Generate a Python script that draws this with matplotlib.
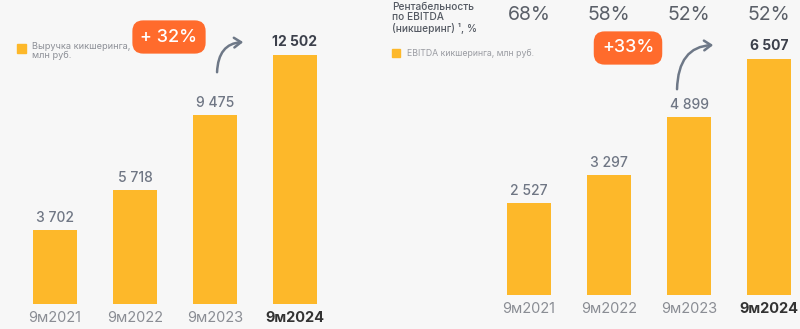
import matplotlib.pyplot as plt
from matplotlib.patches import FancyArrowPatch

plt.rcParams['font.family'] = ['Inter', 'DejaVu Sans']

# данные
periods = ['9м2021', '9м2022', '9м2023', '9м2024']
revenue = [3702, 5718, 9475, 12502]
ebitda = [2527, 3297, 4899, 6507]
margin = ['68%', '58%', '52%', '52%']

W, H = 800, 329
BG = '#f7f7f7'
BAR = '#fdb82a'
BADGE = '#ff6b2c'
GREY = '#6f7684'
DARK = '#3c404b'


def fx(x):
    return x / W


def fy(y):
    return 1 - y / H


def fmt(v):
    return f'{v:,}'.replace(',', ' ')


fig = plt.figure(figsize=(8, 3.29), dpi=100, facecolor=BG)


def bar_panel(rect, values, ymax):
    ax = fig.add_axes(rect)
    ax.set_facecolor(BG)
    x = list(range(len(values)))
    ax.bar(x, values, width=0.55, color=BAR)
    ax.set_xlim(-0.5, 3.5)
    ax.set_ylim(0, ymax)
    for i, v in enumerate(values):
        last = i == len(values) - 1
        ax.annotate(fmt(v), (i, v), xytext=(0, 4), textcoords='offset points',
                    ha='center', va='bottom', fontsize=10,
                    color=DARK if last else GREY,
                    fontweight='bold' if last else 'medium')
    ax.set_xticks(x)
    ax.set_xticklabels(periods, fontsize=10.5)
    ax.tick_params(axis='x', length=0, pad=5)
    for i, lbl in enumerate(ax.get_xticklabels()):
        if i == len(values) - 1:
            lbl.set_color('#333333')
            lbl.set_fontweight('bold')
        else:
            lbl.set_color('#8a8d94')
    ax.set_yticks([])
    for s in ax.spines.values():
        s.set_visible(False)
    return ax


# левая панель: выручка
ax1 = bar_panel([fx(15), 25 / H, fx(320), 304 / H], revenue, 15263)
# правая панель: EBITDA
ax2 = bar_panel([fx(489), 34 / H, fx(320), 295 / H], ebitda, 8134)

# рентабельность над столбцами
to_fig = fig.transFigure.inverted()
for i, m in enumerate(margin):
    xf = to_fig.transform(ax2.transData.transform((i, 0)))[0]
    fig.text(xf, fy(15), m, ha='center', va='center', fontsize=14,
             color='#5a5f68')

# легенды
fig.patches.append(plt.Rectangle((fx(17), fy(53)), fx(9), 9 / H, color=BAR,
                                 transform=fig.transFigure))
fig.text(fx(32), fy(51), 'Выручка кикшеринга,\nмлн руб.', ha='left', va='center',
         fontsize=6.6, color='#8c8f96', linespacing=1.1)

fig.text(fx(392), fy(18), 'Рентабельность\nпо EBITDA\n(никшеринг) ¹, %', ha='left',
         va='center', fontsize=7.3, color='#555a63', fontweight='medium',
         linespacing=1.05)
fig.patches.append(plt.Rectangle((fx(392), fy(57)), fx(8), 8 / H, color=BAR,
                                 transform=fig.transFigure))
fig.text(fx(407), fy(53), 'EBITDA кикшеринга, млн руб.', ha='left', va='center',
         fontsize=6.3, color='#9a9ca2')

# плашки с ростом
badge = dict(boxstyle='round,pad=0.45,rounding_size=0.6', fc=BADGE, ec='none')
fig.text(fx(169), fy(37), '+ 32%', ha='center', va='center', fontsize=13,
         color='white', fontweight='medium', bbox=badge)
fig.text(fx(628), fy(48), '+33%', ha='center', va='center', fontsize=13,
         color='white', fontweight='medium', bbox=badge)

# стрелки
for (x0, y0), (x1, y1) in [((217, 75), (246, 42)), ((677, 92), (716, 45))]:
    arr = FancyArrowPatch((fx(x0), fy(y0)), (fx(x1), fy(y1)),
                          transform=fig.transFigure,
                          connectionstyle='angle3,angleA=90,angleB=0',
                          arrowstyle='->,head_length=5,head_width=3.5',
                          color='#6e7887', lw=1.8)
    fig.patches.append(arr)

fig.savefig('out.png', dpi=100, facecolor=BG)
